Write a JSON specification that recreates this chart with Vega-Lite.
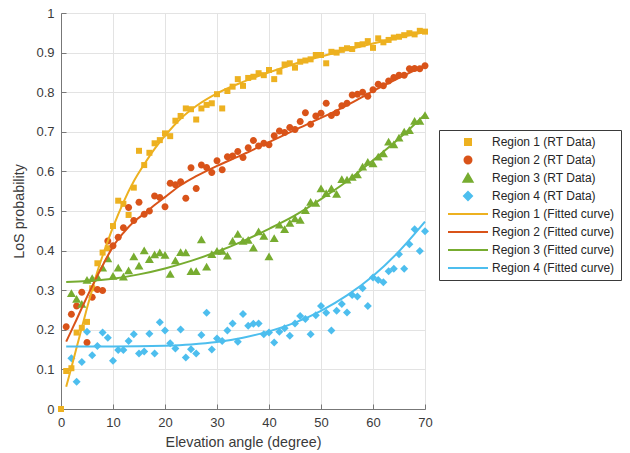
{
  "$schema": "https://vega.github.io/schema/vega-lite/v6.json",
  "autosize": {"type": "none"},
  "padding": {"left": 61, "top": 13, "right": 205, "bottom": 44},
  "width": 364,
  "height": 396,
  "config": {
    "font": "Liberation Sans",
    "view": {"stroke": null},
    "axis": {
      "domainColor": "#777777",
      "tickColor": "#777777",
      "gridColor": "#e3e3e3",
      "labelColor": "#3a3a3a",
      "titleColor": "#3a3a3a",
      "labelFontSize": 13,
      "titleFontSize": 14.3,
      "titleFontWeight": "normal",
      "labelFont": "Liberation Sans",
      "titleFont": "Liberation Sans",
      "tickSize": -5,
      "labelFlush": false,
      "labelOverlap": false
    }
  },
  "datasets": {
    "pts": [
      {"s":"Region 1 (RT Data)","x":0,"y":0},{"s":"Region 1 (RT Data)","x":1,"y":0.096},{"s":"Region 1 (RT Data)","x":2,"y":0.103},{"s":"Region 1 (RT Data)","x":3,"y":0.193},{"s":"Region 1 (RT Data)","x":4,"y":0.205},{"s":"Region 1 (RT Data)","x":5,"y":0.22},{"s":"Region 1 (RT Data)","x":6,"y":0.305},{"s":"Region 1 (RT Data)","x":7,"y":0.368},{"s":"Region 1 (RT Data)","x":8,"y":0.395},{"s":"Region 1 (RT Data)","x":9,"y":0.406},{"s":"Region 1 (RT Data)","x":10,"y":0.462},{"s":"Region 1 (RT Data)","x":11,"y":0.526},{"s":"Region 1 (RT Data)","x":12,"y":0.518},{"s":"Region 1 (RT Data)","x":13,"y":0.49},{"s":"Region 1 (RT Data)","x":14,"y":0.559},{"s":"Region 1 (RT Data)","x":15,"y":0.652},{"s":"Region 1 (RT Data)","x":16,"y":0.616},{"s":"Region 1 (RT Data)","x":17,"y":0.647},{"s":"Region 1 (RT Data)","x":18,"y":0.671},{"s":"Region 1 (RT Data)","x":19,"y":0.679},{"s":"Region 1 (RT Data)","x":20,"y":0.696},{"s":"Region 1 (RT Data)","x":21,"y":0.689},{"s":"Region 1 (RT Data)","x":22,"y":0.728},{"s":"Region 1 (RT Data)","x":23,"y":0.74},{"s":"Region 1 (RT Data)","x":24,"y":0.759},{"s":"Region 1 (RT Data)","x":25,"y":0.757},{"s":"Region 1 (RT Data)","x":26,"y":0.731},{"s":"Region 1 (RT Data)","x":27,"y":0.759},{"s":"Region 1 (RT Data)","x":28,"y":0.768},{"s":"Region 1 (RT Data)","x":29,"y":0.772},{"s":"Region 1 (RT Data)","x":30,"y":0.795},{"s":"Region 1 (RT Data)","x":31,"y":0.759},{"s":"Region 1 (RT Data)","x":32,"y":0.803},{"s":"Region 1 (RT Data)","x":33,"y":0.814},{"s":"Region 1 (RT Data)","x":34,"y":0.833},{"s":"Region 1 (RT Data)","x":35,"y":0.816},{"s":"Region 1 (RT Data)","x":36,"y":0.836},{"s":"Region 1 (RT Data)","x":37,"y":0.839},{"s":"Region 1 (RT Data)","x":38,"y":0.848},{"s":"Region 1 (RT Data)","x":39,"y":0.843},{"s":"Region 1 (RT Data)","x":40,"y":0.856},{"s":"Region 1 (RT Data)","x":41,"y":0.833},{"s":"Region 1 (RT Data)","x":42,"y":0.852},{"s":"Region 1 (RT Data)","x":43,"y":0.87},{"s":"Region 1 (RT Data)","x":44,"y":0.873},{"s":"Region 1 (RT Data)","x":45,"y":0.862},{"s":"Region 1 (RT Data)","x":46,"y":0.877},{"s":"Region 1 (RT Data)","x":47,"y":0.88},{"s":"Region 1 (RT Data)","x":48,"y":0.883},{"s":"Region 1 (RT Data)","x":49,"y":0.894},{"s":"Region 1 (RT Data)","x":50,"y":0.894},{"s":"Region 1 (RT Data)","x":51,"y":0.873},{"s":"Region 1 (RT Data)","x":52,"y":0.902},{"s":"Region 1 (RT Data)","x":53,"y":0.9},{"s":"Region 1 (RT Data)","x":54,"y":0.907},{"s":"Region 1 (RT Data)","x":55,"y":0.911},{"s":"Region 1 (RT Data)","x":56,"y":0.909},{"s":"Region 1 (RT Data)","x":57,"y":0.919},{"s":"Region 1 (RT Data)","x":58,"y":0.921},{"s":"Region 1 (RT Data)","x":59,"y":0.929},{"s":"Region 1 (RT Data)","x":60,"y":0.912},{"s":"Region 1 (RT Data)","x":61,"y":0.936},{"s":"Region 1 (RT Data)","x":62,"y":0.926},{"s":"Region 1 (RT Data)","x":63,"y":0.932},{"s":"Region 1 (RT Data)","x":64,"y":0.938},{"s":"Region 1 (RT Data)","x":65,"y":0.94},{"s":"Region 1 (RT Data)","x":66,"y":0.944},{"s":"Region 1 (RT Data)","x":67,"y":0.949},{"s":"Region 1 (RT Data)","x":68,"y":0.946},{"s":"Region 1 (RT Data)","x":69,"y":0.955},{"s":"Region 1 (RT Data)","x":70,"y":0.953},
      {"s":"Region 2 (RT Data)","x":1,"y":0.208},{"s":"Region 2 (RT Data)","x":2,"y":0.239},{"s":"Region 2 (RT Data)","x":3,"y":0.26},{"s":"Region 2 (RT Data)","x":4,"y":0.295},{"s":"Region 2 (RT Data)","x":5,"y":0.168},{"s":"Region 2 (RT Data)","x":6,"y":0.282},{"s":"Region 2 (RT Data)","x":7,"y":0.302},{"s":"Region 2 (RT Data)","x":8,"y":0.299},{"s":"Region 2 (RT Data)","x":9,"y":0.424},{"s":"Region 2 (RT Data)","x":10,"y":0.412},{"s":"Region 2 (RT Data)","x":11,"y":0.434},{"s":"Region 2 (RT Data)","x":12,"y":0.458},{"s":"Region 2 (RT Data)","x":13,"y":0.509},{"s":"Region 2 (RT Data)","x":14,"y":0.476},{"s":"Region 2 (RT Data)","x":15,"y":0.522},{"s":"Region 2 (RT Data)","x":16,"y":0.492},{"s":"Region 2 (RT Data)","x":17,"y":0.5},{"s":"Region 2 (RT Data)","x":18,"y":0.538},{"s":"Region 2 (RT Data)","x":19,"y":0.534},{"s":"Region 2 (RT Data)","x":20,"y":0.511},{"s":"Region 2 (RT Data)","x":21,"y":0.57},{"s":"Region 2 (RT Data)","x":22,"y":0.566},{"s":"Region 2 (RT Data)","x":23,"y":0.574},{"s":"Region 2 (RT Data)","x":24,"y":0.532},{"s":"Region 2 (RT Data)","x":25,"y":0.609},{"s":"Region 2 (RT Data)","x":26,"y":0.557},{"s":"Region 2 (RT Data)","x":27,"y":0.616},{"s":"Region 2 (RT Data)","x":28,"y":0.61},{"s":"Region 2 (RT Data)","x":29,"y":0.597},{"s":"Region 2 (RT Data)","x":30,"y":0.627},{"s":"Region 2 (RT Data)","x":31,"y":0.604},{"s":"Region 2 (RT Data)","x":32,"y":0.637},{"s":"Region 2 (RT Data)","x":33,"y":0.639},{"s":"Region 2 (RT Data)","x":34,"y":0.65},{"s":"Region 2 (RT Data)","x":35,"y":0.635},{"s":"Region 2 (RT Data)","x":36,"y":0.66},{"s":"Region 2 (RT Data)","x":37,"y":0.678},{"s":"Region 2 (RT Data)","x":38,"y":0.664},{"s":"Region 2 (RT Data)","x":39,"y":0.671},{"s":"Region 2 (RT Data)","x":40,"y":0.667},{"s":"Region 2 (RT Data)","x":41,"y":0.69},{"s":"Region 2 (RT Data)","x":42,"y":0.702},{"s":"Region 2 (RT Data)","x":43,"y":0.698},{"s":"Region 2 (RT Data)","x":44,"y":0.711},{"s":"Region 2 (RT Data)","x":45,"y":0.706},{"s":"Region 2 (RT Data)","x":46,"y":0.726},{"s":"Region 2 (RT Data)","x":47,"y":0.748},{"s":"Region 2 (RT Data)","x":48,"y":0.719},{"s":"Region 2 (RT Data)","x":49,"y":0.74},{"s":"Region 2 (RT Data)","x":50,"y":0.747},{"s":"Region 2 (RT Data)","x":51,"y":0.772},{"s":"Region 2 (RT Data)","x":52,"y":0.741},{"s":"Region 2 (RT Data)","x":53,"y":0.748},{"s":"Region 2 (RT Data)","x":54,"y":0.766},{"s":"Region 2 (RT Data)","x":55,"y":0.772},{"s":"Region 2 (RT Data)","x":56,"y":0.793},{"s":"Region 2 (RT Data)","x":57,"y":0.795},{"s":"Region 2 (RT Data)","x":58,"y":0.8},{"s":"Region 2 (RT Data)","x":59,"y":0.79},{"s":"Region 2 (RT Data)","x":60,"y":0.806},{"s":"Region 2 (RT Data)","x":61,"y":0.82},{"s":"Region 2 (RT Data)","x":62,"y":0.816},{"s":"Region 2 (RT Data)","x":63,"y":0.828},{"s":"Region 2 (RT Data)","x":64,"y":0.837},{"s":"Region 2 (RT Data)","x":65,"y":0.843},{"s":"Region 2 (RT Data)","x":66,"y":0.843},{"s":"Region 2 (RT Data)","x":67,"y":0.859},{"s":"Region 2 (RT Data)","x":68,"y":0.86},{"s":"Region 2 (RT Data)","x":69,"y":0.859},{"s":"Region 2 (RT Data)","x":70,"y":0.867},
      {"s":"Region 3 (RT Data)","x":2,"y":0.292},{"s":"Region 3 (RT Data)","x":3,"y":0.278},{"s":"Region 3 (RT Data)","x":4,"y":0.265},{"s":"Region 3 (RT Data)","x":5,"y":0.326},{"s":"Region 3 (RT Data)","x":6,"y":0.33},{"s":"Region 3 (RT Data)","x":7,"y":0.334},{"s":"Region 3 (RT Data)","x":8,"y":0.357},{"s":"Region 3 (RT Data)","x":9,"y":0.38},{"s":"Region 3 (RT Data)","x":10,"y":0.336},{"s":"Region 3 (RT Data)","x":11,"y":0.357},{"s":"Region 3 (RT Data)","x":12,"y":0.334},{"s":"Region 3 (RT Data)","x":13,"y":0.35},{"s":"Region 3 (RT Data)","x":14,"y":0.385},{"s":"Region 3 (RT Data)","x":15,"y":0.362},{"s":"Region 3 (RT Data)","x":16,"y":0.4},{"s":"Region 3 (RT Data)","x":17,"y":0.378},{"s":"Region 3 (RT Data)","x":18,"y":0.39},{"s":"Region 3 (RT Data)","x":19,"y":0.395},{"s":"Region 3 (RT Data)","x":20,"y":0.389},{"s":"Region 3 (RT Data)","x":21,"y":0.341},{"s":"Region 3 (RT Data)","x":22,"y":0.375},{"s":"Region 3 (RT Data)","x":23,"y":0.396},{"s":"Region 3 (RT Data)","x":24,"y":0.395},{"s":"Region 3 (RT Data)","x":25,"y":0.348},{"s":"Region 3 (RT Data)","x":26,"y":0.348},{"s":"Region 3 (RT Data)","x":27,"y":0.428},{"s":"Region 3 (RT Data)","x":28,"y":0.359},{"s":"Region 3 (RT Data)","x":29,"y":0.391},{"s":"Region 3 (RT Data)","x":30,"y":0.399},{"s":"Region 3 (RT Data)","x":31,"y":0.399},{"s":"Region 3 (RT Data)","x":32,"y":0.387},{"s":"Region 3 (RT Data)","x":33,"y":0.424},{"s":"Region 3 (RT Data)","x":34,"y":0.442},{"s":"Region 3 (RT Data)","x":35,"y":0.424},{"s":"Region 3 (RT Data)","x":36,"y":0.427},{"s":"Region 3 (RT Data)","x":37,"y":0.407},{"s":"Region 3 (RT Data)","x":38,"y":0.448},{"s":"Region 3 (RT Data)","x":39,"y":0.437},{"s":"Region 3 (RT Data)","x":40,"y":0.385},{"s":"Region 3 (RT Data)","x":41,"y":0.431},{"s":"Region 3 (RT Data)","x":42,"y":0.465},{"s":"Region 3 (RT Data)","x":43,"y":0.454},{"s":"Region 3 (RT Data)","x":44,"y":0.47},{"s":"Region 3 (RT Data)","x":45,"y":0.481},{"s":"Region 3 (RT Data)","x":46,"y":0.477},{"s":"Region 3 (RT Data)","x":47,"y":0.502},{"s":"Region 3 (RT Data)","x":48,"y":0.523},{"s":"Region 3 (RT Data)","x":49,"y":0.52},{"s":"Region 3 (RT Data)","x":50,"y":0.557},{"s":"Region 3 (RT Data)","x":51,"y":0.545},{"s":"Region 3 (RT Data)","x":52,"y":0.557},{"s":"Region 3 (RT Data)","x":53,"y":0.543},{"s":"Region 3 (RT Data)","x":54,"y":0.58},{"s":"Region 3 (RT Data)","x":55,"y":0.579},{"s":"Region 3 (RT Data)","x":56,"y":0.586},{"s":"Region 3 (RT Data)","x":57,"y":0.592},{"s":"Region 3 (RT Data)","x":58,"y":0.612},{"s":"Region 3 (RT Data)","x":59,"y":0.624},{"s":"Region 3 (RT Data)","x":60,"y":0.62},{"s":"Region 3 (RT Data)","x":61,"y":0.637},{"s":"Region 3 (RT Data)","x":62,"y":0.645},{"s":"Region 3 (RT Data)","x":63,"y":0.675},{"s":"Region 3 (RT Data)","x":64,"y":0.668},{"s":"Region 3 (RT Data)","x":65,"y":0.685},{"s":"Region 3 (RT Data)","x":66,"y":0.7},{"s":"Region 3 (RT Data)","x":67,"y":0.704},{"s":"Region 3 (RT Data)","x":68,"y":0.727},{"s":"Region 3 (RT Data)","x":69,"y":0.727},{"s":"Region 3 (RT Data)","x":70,"y":0.742},
      {"s":"Region 4 (RT Data)","x":2,"y":0.128},{"s":"Region 4 (RT Data)","x":3,"y":0.069},{"s":"Region 4 (RT Data)","x":4,"y":0.119},{"s":"Region 4 (RT Data)","x":5,"y":0.195},{"s":"Region 4 (RT Data)","x":6,"y":0.136},{"s":"Region 4 (RT Data)","x":7,"y":0.159},{"s":"Region 4 (RT Data)","x":8,"y":0.193},{"s":"Region 4 (RT Data)","x":9,"y":0.18},{"s":"Region 4 (RT Data)","x":10,"y":0.122},{"s":"Region 4 (RT Data)","x":11,"y":0.149},{"s":"Region 4 (RT Data)","x":12,"y":0.149},{"s":"Region 4 (RT Data)","x":13,"y":0.172},{"s":"Region 4 (RT Data)","x":14,"y":0.189},{"s":"Region 4 (RT Data)","x":15,"y":0.14},{"s":"Region 4 (RT Data)","x":16,"y":0.145},{"s":"Region 4 (RT Data)","x":17,"y":0.19},{"s":"Region 4 (RT Data)","x":18,"y":0.14},{"s":"Region 4 (RT Data)","x":19,"y":0.219},{"s":"Region 4 (RT Data)","x":20,"y":0.198},{"s":"Region 4 (RT Data)","x":21,"y":0.166},{"s":"Region 4 (RT Data)","x":22,"y":0.153},{"s":"Region 4 (RT Data)","x":23,"y":0.201},{"s":"Region 4 (RT Data)","x":24,"y":0.13},{"s":"Region 4 (RT Data)","x":25,"y":0.151},{"s":"Region 4 (RT Data)","x":26,"y":0.14},{"s":"Region 4 (RT Data)","x":27,"y":0.187},{"s":"Region 4 (RT Data)","x":28,"y":0.243},{"s":"Region 4 (RT Data)","x":29,"y":0.15},{"s":"Region 4 (RT Data)","x":30,"y":0.178},{"s":"Region 4 (RT Data)","x":31,"y":0.172},{"s":"Region 4 (RT Data)","x":32,"y":0.198},{"s":"Region 4 (RT Data)","x":33,"y":0.216},{"s":"Region 4 (RT Data)","x":34,"y":0.17},{"s":"Region 4 (RT Data)","x":35,"y":0.24},{"s":"Region 4 (RT Data)","x":36,"y":0.21},{"s":"Region 4 (RT Data)","x":37,"y":0.215},{"s":"Region 4 (RT Data)","x":38,"y":0.216},{"s":"Region 4 (RT Data)","x":39,"y":0.189},{"s":"Region 4 (RT Data)","x":40,"y":0.193},{"s":"Region 4 (RT Data)","x":41,"y":0.168},{"s":"Region 4 (RT Data)","x":42,"y":0.195},{"s":"Region 4 (RT Data)","x":43,"y":0.204},{"s":"Region 4 (RT Data)","x":44,"y":0.185},{"s":"Region 4 (RT Data)","x":45,"y":0.216},{"s":"Region 4 (RT Data)","x":46,"y":0.235},{"s":"Region 4 (RT Data)","x":47,"y":0.227},{"s":"Region 4 (RT Data)","x":48,"y":0.189},{"s":"Region 4 (RT Data)","x":49,"y":0.237},{"s":"Region 4 (RT Data)","x":50,"y":0.26},{"s":"Region 4 (RT Data)","x":51,"y":0.243},{"s":"Region 4 (RT Data)","x":52,"y":0.198},{"s":"Region 4 (RT Data)","x":53,"y":0.248},{"s":"Region 4 (RT Data)","x":54,"y":0.265},{"s":"Region 4 (RT Data)","x":55,"y":0.244},{"s":"Region 4 (RT Data)","x":56,"y":0.288},{"s":"Region 4 (RT Data)","x":57,"y":0.284},{"s":"Region 4 (RT Data)","x":58,"y":0.305},{"s":"Region 4 (RT Data)","x":59,"y":0.26},{"s":"Region 4 (RT Data)","x":60,"y":0.332},{"s":"Region 4 (RT Data)","x":61,"y":0.326},{"s":"Region 4 (RT Data)","x":62,"y":0.32},{"s":"Region 4 (RT Data)","x":63,"y":0.348},{"s":"Region 4 (RT Data)","x":64,"y":0.354},{"s":"Region 4 (RT Data)","x":65,"y":0.391},{"s":"Region 4 (RT Data)","x":66,"y":0.354},{"s":"Region 4 (RT Data)","x":67,"y":0.416},{"s":"Region 4 (RT Data)","x":68,"y":0.454},{"s":"Region 4 (RT Data)","x":69,"y":0.399},{"s":"Region 4 (RT Data)","x":70,"y":0.449}
    ],
    "fit": [
      {"s":"Region 1 (Fitted curve)","x":1,"y":0.056},{"s":"Region 1 (Fitted curve)","x":2,"y":0.105},{"s":"Region 1 (Fitted curve)","x":3,"y":0.155},{"s":"Region 1 (Fitted curve)","x":4,"y":0.205},{"s":"Region 1 (Fitted curve)","x":5,"y":0.255},{"s":"Region 1 (Fitted curve)","x":6,"y":0.302},{"s":"Region 1 (Fitted curve)","x":7,"y":0.347},{"s":"Region 1 (Fitted curve)","x":8,"y":0.387},{"s":"Region 1 (Fitted curve)","x":9,"y":0.424},{"s":"Region 1 (Fitted curve)","x":10,"y":0.459},{"s":"Region 1 (Fitted curve)","x":12,"y":0.522},{"s":"Region 1 (Fitted curve)","x":14,"y":0.575},{"s":"Region 1 (Fitted curve)","x":16,"y":0.618},{"s":"Region 1 (Fitted curve)","x":18,"y":0.657},{"s":"Region 1 (Fitted curve)","x":20,"y":0.69},{"s":"Region 1 (Fitted curve)","x":23,"y":0.733},{"s":"Region 1 (Fitted curve)","x":26,"y":0.765},{"s":"Region 1 (Fitted curve)","x":30,"y":0.797},{"s":"Region 1 (Fitted curve)","x":35,"y":0.826},{"s":"Region 1 (Fitted curve)","x":40,"y":0.85},{"s":"Region 1 (Fitted curve)","x":45,"y":0.872},{"s":"Region 1 (Fitted curve)","x":50,"y":0.89},{"s":"Region 1 (Fitted curve)","x":55,"y":0.907},{"s":"Region 1 (Fitted curve)","x":60,"y":0.923},{"s":"Region 1 (Fitted curve)","x":65,"y":0.938},{"s":"Region 1 (Fitted curve)","x":70,"y":0.952},
      {"s":"Region 2 (Fitted curve)","x":1,"y":0.17},{"s":"Region 2 (Fitted curve)","x":2,"y":0.198},{"s":"Region 2 (Fitted curve)","x":3,"y":0.226},{"s":"Region 2 (Fitted curve)","x":4,"y":0.255},{"s":"Region 2 (Fitted curve)","x":5,"y":0.283},{"s":"Region 2 (Fitted curve)","x":6,"y":0.31},{"s":"Region 2 (Fitted curve)","x":7,"y":0.337},{"s":"Region 2 (Fitted curve)","x":8,"y":0.362},{"s":"Region 2 (Fitted curve)","x":9,"y":0.387},{"s":"Region 2 (Fitted curve)","x":10,"y":0.41},{"s":"Region 2 (Fitted curve)","x":12,"y":0.445},{"s":"Region 2 (Fitted curve)","x":14,"y":0.473},{"s":"Region 2 (Fitted curve)","x":16,"y":0.493},{"s":"Region 2 (Fitted curve)","x":18,"y":0.515},{"s":"Region 2 (Fitted curve)","x":20,"y":0.535},{"s":"Region 2 (Fitted curve)","x":23,"y":0.565},{"s":"Region 2 (Fitted curve)","x":26,"y":0.588},{"s":"Region 2 (Fitted curve)","x":30,"y":0.614},{"s":"Region 2 (Fitted curve)","x":35,"y":0.643},{"s":"Region 2 (Fitted curve)","x":40,"y":0.674},{"s":"Region 2 (Fitted curve)","x":45,"y":0.705},{"s":"Region 2 (Fitted curve)","x":50,"y":0.735},{"s":"Region 2 (Fitted curve)","x":55,"y":0.767},{"s":"Region 2 (Fitted curve)","x":60,"y":0.803},{"s":"Region 2 (Fitted curve)","x":65,"y":0.836},{"s":"Region 2 (Fitted curve)","x":70,"y":0.868},
      {"s":"Region 3 (Fitted curve)","x":1,"y":0.321},{"s":"Region 3 (Fitted curve)","x":5,"y":0.323},{"s":"Region 3 (Fitted curve)","x":10,"y":0.329},{"s":"Region 3 (Fitted curve)","x":15,"y":0.34},{"s":"Region 3 (Fitted curve)","x":20,"y":0.355},{"s":"Region 3 (Fitted curve)","x":25,"y":0.374},{"s":"Region 3 (Fitted curve)","x":30,"y":0.397},{"s":"Region 3 (Fitted curve)","x":35,"y":0.424},{"s":"Region 3 (Fitted curve)","x":40,"y":0.455},{"s":"Region 3 (Fitted curve)","x":45,"y":0.489},{"s":"Region 3 (Fitted curve)","x":50,"y":0.53},{"s":"Region 3 (Fitted curve)","x":55,"y":0.575},{"s":"Region 3 (Fitted curve)","x":60,"y":0.628},{"s":"Region 3 (Fitted curve)","x":65,"y":0.683},{"s":"Region 3 (Fitted curve)","x":70,"y":0.744},
      {"s":"Region 4 (Fitted curve)","x":1,"y":0.158},{"s":"Region 4 (Fitted curve)","x":10,"y":0.158},{"s":"Region 4 (Fitted curve)","x":20,"y":0.16},{"s":"Region 4 (Fitted curve)","x":25,"y":0.163},{"s":"Region 4 (Fitted curve)","x":30,"y":0.169},{"s":"Region 4 (Fitted curve)","x":35,"y":0.18},{"s":"Region 4 (Fitted curve)","x":40,"y":0.196},{"s":"Region 4 (Fitted curve)","x":45,"y":0.218},{"s":"Region 4 (Fitted curve)","x":50,"y":0.248},{"s":"Region 4 (Fitted curve)","x":55,"y":0.287},{"s":"Region 4 (Fitted curve)","x":60,"y":0.336},{"s":"Region 4 (Fitted curve)","x":65,"y":0.398},{"s":"Region 4 (Fitted curve)","x":70,"y":0.473}
    ]
  },
  "encoding": {
    "x": {"field": "x", "type": "quantitative",
      "scale": {"domain": [0, 70], "nice": false},
      "axis": {"title": "Elevation angle (degree)", "values": [0,10,20,30,40,50,60,70], "labelPadding": 12, "titlePadding": 6}},
    "y": {"field": "y", "type": "quantitative",
      "scale": {"domain": [0, 1], "nice": false},
      "axis": {"title": "LoS probability", "values": [0,0.1,0.2,0.3,0.4,0.5,0.6,0.7,0.8,0.9,1], "format": "~g", "labelPadding": 12, "titlePadding": 9}},
    "color": {"field": "s", "type": "nominal",
      "scale": {
        "domain": ["Region 1 (RT Data)","Region 2 (RT Data)","Region 3 (RT Data)","Region 4 (RT Data)","Region 1 (Fitted curve)","Region 2 (Fitted curve)","Region 3 (Fitted curve)","Region 4 (Fitted curve)"],
        "range": ["#EDB120","#D95319","#77AC30","#4DBEEE","#EDB120","#D95319","#77AC30","#4DBEEE"]
      },
      "legend": {
        "title": null, "orient": "none", "legendX": 378, "legendY": 117,
        "padding": 6, "rowPadding": 6, "clipHeight": 12, "symbolSize": 100, "symbolStrokeWidth": 2,
        "symbolOffset": 17, "labelOffset": 18, "labelFontSize": 12, "labelFont": "Liberation Sans",
        "labelColor": "#262626", "strokeColor": "#3a3a3a", "fillColor": "white",
        "encode": {"symbols": {"update": {
          "size": {"value": 100},
          "strokeWidth": {"value": 2},
          "shape": {"signal": "datum.value == 'Region 1 (RT Data)' ? 'M-0.6,-0.6L0.6,-0.6L0.6,0.6L-0.6,0.6Z' : datum.value == 'Region 2 (RT Data)' ? 'M0.7,0A0.7,0.7,0,1,1,-0.7,0A0.7,0.7,0,1,1,0.7,0Z' : datum.value == 'Region 3 (RT Data)' ? 'M0,-0.8L0.9,0.75L-0.9,0.75Z' : datum.value == 'Region 4 (RT Data)' ? 'M0,-0.8L0.8,0L0,0.8L-0.8,0Z' : 'M-4,0L4,0'"},
          "fill": {"signal": "indexof(datum.value, 'Fitted') >= 0 ? null : scale('color', datum.value)"},
          "stroke": {"signal": "indexof(datum.value, 'Fitted') >= 0 ? scale('color', datum.value) : null"},
          "opacity": {"value": 1}
        }}}
      }
    }
  },
  "layer": [
    {
      "data": {"name": "pts"},
      "mark": {"type": "point", "filled": true, "opacity": 1, "size": 100, "strokeWidth": 0},
      "encoding": {
        "shape": {"field": "s", "type": "nominal", "legend": null,
          "scale": {
            "domain": ["Region 1 (RT Data)","Region 2 (RT Data)","Region 3 (RT Data)","Region 4 (RT Data)"],
            "range": ["M-0.6,-0.6L0.6,-0.6L0.6,0.6L-0.6,0.6Z","M0.7,0A0.7,0.7,0,1,1,-0.7,0A0.7,0.7,0,1,1,0.7,0Z","M0,-0.8L0.9,0.75L-0.9,0.75Z","M0,-0.8L0.8,0L0,0.8L-0.8,0Z"]
          }}
      }
    },
    {
      "data": {"name": "fit"},
      "mark": {"type": "line", "strokeWidth": 2, "interpolate": "monotone"},
      "encoding": {"detail": {"field": "s"}}
    }
  ]
}
